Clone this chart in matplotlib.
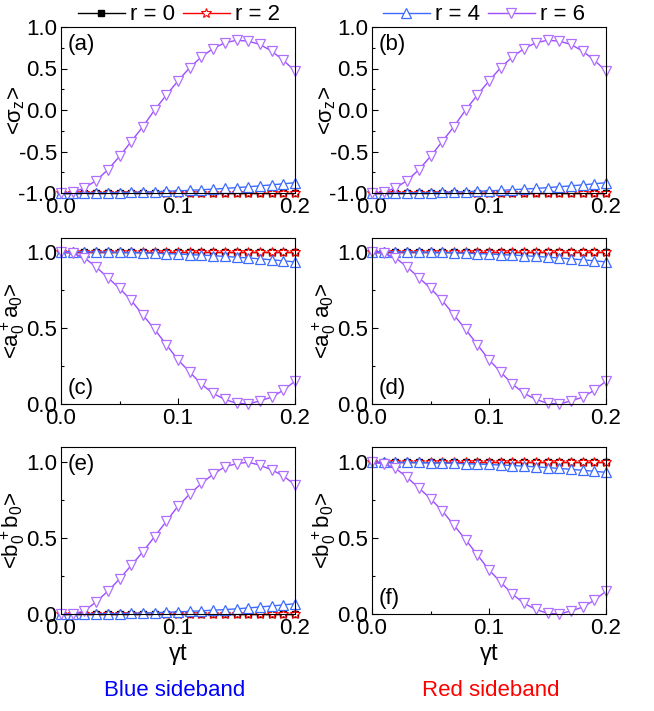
import numpy as np
import matplotlib
matplotlib.use("Agg")
import matplotlib.pyplot as plt
from matplotlib.ticker import MultipleLocator, FormatStrFormatter

plt.rcParams['font.family'] = ['Liberation Sans', 'DejaVu Sans']
plt.rcParams['mathtext.fontset'] = 'custom'
plt.rcParams['mathtext.rm'] = 'Liberation Sans'
plt.rcParams['mathtext.it'] = 'Liberation Sans'
plt.rcParams['mathtext.bf'] = 'Liberation Sans:bold'

# ---- data ----
t = [0.00, 0.01, 0.02, 0.03, 0.04, 0.05, 0.06, 0.07, 0.08, 0.09, 0.10,
     0.11, 0.12, 0.13, 0.14, 0.15, 0.16, 0.17, 0.18, 0.19, 0.20]

sz_r0 = [-1.0] * 21
sz_r2 = [-1.0] * 21
sz_r4 = [-1.0, -1.0, -0.999, -0.998, -0.996, -0.994, -0.991, -0.988, -0.984, -0.979, -0.974,
         -0.968, -0.961, -0.953, -0.945, -0.935, -0.925, -0.914, -0.902, -0.889, -0.876]
sz_r6 = [-1.0, -0.99, -0.94, -0.85, -0.72, -0.56, -0.38, -0.20, 0.0, 0.18, 0.35,
         0.51, 0.64, 0.74, 0.81, 0.84, 0.83, 0.79, 0.71, 0.60, 0.47]

aa_r0 = [1.0] * 21
aa_r2 = [1.0] * 21
aa_r4 = [1.0, 1.0, 0.999, 0.999, 0.998, 0.996, 0.995, 0.993, 0.990, 0.988, 0.985,
         0.981, 0.978, 0.974, 0.969, 0.964, 0.959, 0.953, 0.947, 0.940, 0.933]
aa_r6 = [1.0, 0.99, 0.96, 0.90, 0.83, 0.76, 0.68, 0.585, 0.49, 0.39, 0.29,
         0.21, 0.13, 0.07, 0.03, 0.005, 0.0, 0.02, 0.045, 0.09, 0.15]

bb_blue_r0 = [0.0] * 21
bb_blue_r2 = [0.0] * 21
bb_blue_r4 = [0.0, 0.0, 0.0, 0.001, 0.002, 0.003, 0.005, 0.007, 0.009, 0.011, 0.014,
              0.017, 0.021, 0.025, 0.029, 0.034, 0.040, 0.046, 0.053, 0.060, 0.068]
bb_blue_r6 = [0.0, 0.0, 0.02, 0.08, 0.15, 0.23, 0.32, 0.41, 0.51, 0.61, 0.71,
              0.79, 0.86, 0.92, 0.97, 0.99, 1.0, 0.98, 0.95, 0.91, 0.85]

bb_red_r0 = [1.0] * 21
bb_red_r2 = [1.0] * 21
bb_red_r4 = aa_r4
bb_red_r6 = aa_r6

labels = ['r = 0', 'r = 2', 'r = 4', 'r = 6']

# ---- styles ----
FS = 16
c_blue = '#3d6bff'
c_vio = '#9b4dff'
styles = [
    dict(color='black', marker='s', markersize=4, mfc='black', mec='black', lw=1.0),
    dict(color='#ff0000', marker='*', markersize=7, mfc='white', mec='#ff0000', mew=0.8, lw=1.0),
    dict(color=c_blue, marker='^', markersize=7.5, mfc='white', mec=c_blue, mew=0.9, lw=1.0),
    dict(color=c_vio, marker='v', markersize=7.5, mfc='white', mec='#b070ff', mew=0.9, lw=1.0),
]

fig = plt.figure(figsize=(6.54, 7.11), dpi=100)

W = 234 / 654
xl = [61 / 654, 372 / 654]
rows = [(1 - 193 / 711, 166 / 711), (1 - 404 / 711, 166 / 711), (1 - 614 / 711, 167 / 711)]

panels = [
    (0, 0, [sz_r0, sz_r2, sz_r4, sz_r6], (-1.0, 1.0), r'<$\sigma_z$>', '(a)', 'top'),
    (0, 1, [sz_r0, sz_r2, sz_r4, sz_r6], (-1.0, 1.0), r'<$\sigma_z$>', '(b)', 'top'),
    (1, 0, [aa_r0, aa_r2, aa_r4, aa_r6], (0.0, 1.09), r'<$a_0^+a_0$>', '(c)', 'bottom'),
    (1, 1, [aa_r0, aa_r2, aa_r4, aa_r6], (0.0, 1.09), r'<$a_0^+a_0$>', '(d)', 'bottom'),
    (2, 0, [bb_blue_r0, bb_blue_r2, bb_blue_r4, bb_blue_r6], (0.0, 1.1), r'<$b_0^+b_0$>', '(e)', 'top'),
    (2, 1, [bb_red_r0, bb_red_r2, bb_red_r4, bb_red_r6], (0.0, 1.1), r'<$b_0^+b_0$>', '(f)', 'bottom'),
]

all_lines = {}
for r, c, series, ylim, ylab, tag, tagpos in panels:
    b, h = rows[r]
    ax = fig.add_axes([xl[c], b, W, h])
    lines = []
    for s, st, lab in zip(series, styles, labels):
        ln, = ax.plot(t, s, label=lab, clip_on=False, **st)
        lines.append(ln)
    all_lines[(r, c)] = lines
    ax.set_xlim(0, 0.2)
    ax.set_ylim(*ylim)
    ax.xaxis.set_major_locator(MultipleLocator(0.1))
    ax.xaxis.set_minor_locator(MultipleLocator(0.05))
    ax.yaxis.set_major_locator(MultipleLocator(0.5))
    ax.yaxis.set_minor_locator(MultipleLocator(0.25))
    ax.tick_params(which='both', direction='in', labelsize=FS, top=False, right=False, pad=3)
    ax.tick_params(which='major', length=4, width=0.8)
    ax.tick_params(which='minor', length=2.5, width=0.8)
    ax.xaxis.set_major_formatter(FormatStrFormatter('%.1f'))
    ax.yaxis.set_major_formatter(FormatStrFormatter('%.1f'))
    for sp in ax.spines.values():
        sp.set_linewidth(0.8)
    ax.set_ylabel(ylab, fontsize=FS)
    ax.yaxis.set_label_coords(-0.145, 0.5)
    if tagpos == 'top':
        ax.text(0.03, 0.96, tag, transform=ax.transAxes, fontsize=FS, va='top', ha='left')
    else:
        ax.text(0.03, 0.03, tag, transform=ax.transAxes, fontsize=FS, va='bottom', ha='left')
    if r == 2:
        ax.set_xlabel(r'$\gamma$t', fontsize=FS + 1, labelpad=2)

leg_kw = dict(ncol=2, frameon=False, loc='center left', fontsize=FS,
              handlelength=2.1, handletextpad=0.25, columnspacing=0.35,
              borderaxespad=0.0, borderpad=0.0)
hl = all_lines[(0, 0)]
fig.legend(hl[0:2], labels[0:2], bbox_to_anchor=(78 / 654, 1 - 15 / 711), **leg_kw)
fig.legend(hl[2:4], labels[2:4], bbox_to_anchor=(383 / 654, 1 - 15 / 711), **leg_kw)

fig.text(175 / 654, 1 - 690 / 711, 'Blue sideband', color='#0000ff', fontsize=FS,
         ha='center', va='center')
fig.text(491 / 654, 1 - 690 / 711, 'Red sideband', color='#ff0000', fontsize=FS,
         ha='center', va='center')

fig.savefig('out.png', dpi=100)
